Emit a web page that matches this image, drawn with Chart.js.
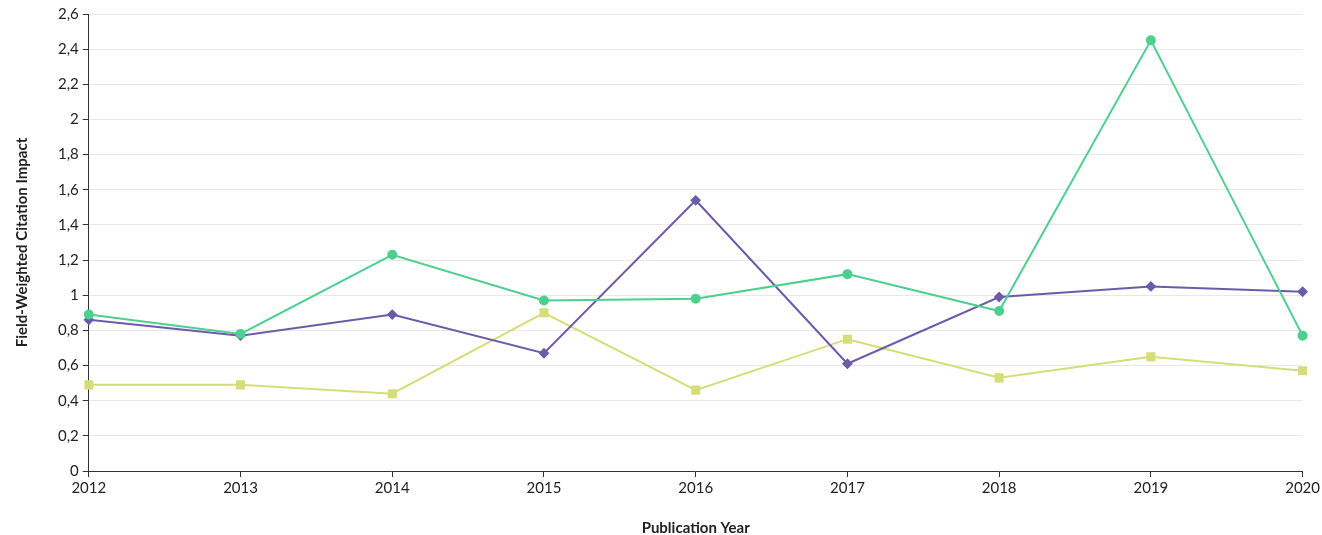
<!DOCTYPE html>
<html>
<head>
    <title>Field-Weighted Citation Impact</title>
    <meta charset="UTF-8">
    <script src="https://cdn.jsdelivr.net/npm/chart.js@4.4.0/dist/chart.umd.min.js"></script>
    <style>
        html, body { margin: 0; padding: 0; background: #fff; }
        #wrap { width: 1322px; height: 535px; }
    </style>
</head>
<body>
    <div id="wrap"><canvas id="fwciChart"></canvas></div>
    <script>
        const years = ['2012', '2013', '2014', '2015', '2016', '2017', '2018', '2019', '2020'];
        const greenValues = [0.89, 0.78, 1.23, 0.97, 0.98, 1.12, 0.91, 2.45, 0.77];
        const purpleValues = [0.86, 0.77, 0.89, 0.67, 1.54, 0.61, 0.99, 1.05, 1.02];
        const yellowValues = [0.49, 0.49, 0.44, 0.90, 0.46, 0.75, 0.53, 0.65, 0.57];
        const yTicks = [0, 0.2, 0.4, 0.6, 0.8, 1, 1.2, 1.4, 1.6, 1.8, 2, 2.2, 2.4, 2.6];

        const font = "Lato, 'Open Sans', sans-serif";
        const axisColor = '#333333';

        new Chart(document.getElementById('fwciChart'), {
            type: 'line',
            data: {
                labels: years,
                datasets: [
                    {
                        data: greenValues,
                        borderColor: '#4ecf8f',
                        backgroundColor: '#4ecf8f',
                        pointStyle: 'circle',
                        pointRadius: 4,
                        borderWidth: 2
                    },
                    {
                        data: purpleValues,
                        borderColor: '#6b5ba9',
                        backgroundColor: '#6b5ba9',
                        pointStyle: 'rectRot',
                        pointRadius: 4,
                        borderWidth: 2
                    },
                    {
                        data: yellowValues,
                        borderColor: '#d5dd78',
                        backgroundColor: '#d5dd78',
                        pointStyle: 'rect',
                        pointRadius: 5,
                        borderWidth: 2
                    }
                ]
            },
            options: {
                responsive: true,
                maintainAspectRatio: false,
                animation: false,
                layout: { padding: { top: 14, right: 5, left: 9, bottom: -6 } },
                plugins: {
                    legend: { display: false },
                    tooltip: { enabled: false }
                },
                elements: { line: { tension: 0 } },
                scales: {
                    x: {
                        offset: false,
                        border: { color: axisColor, width: 1 },
                        grid: {
                            drawOnChartArea: false,
                            drawTicks: true,
                            tickLength: 6,
                            tickColor: axisColor
                        },
                        ticks: { color: '#222', font: { family: font, size: 15 }, padding: 2, maxRotation: 0 },
                        title: {
                            display: true,
                            text: 'Publication Year',
                            color: '#222',
                            font: { family: font, size: 15, weight: 'bold' },
                            padding: { top: 20 }
                        }
                    },
                    y: {
                        min: 0,
                        max: 2.6,
                        afterBuildTicks: (axis) => { axis.ticks = yTicks.map((v) => ({ value: v })); },
                        border: { color: axisColor, width: 1 },
                        grid: {
                            color: '#e8e8e8',
                            drawTicks: true,
                            tickLength: 6,
                            tickColor: axisColor
                        },
                        ticks: {
                            color: '#222',
                            font: { family: font, size: 15 },
                            padding: 4,
                            callback: (value) => (Math.round(value * 10) / 10).toString().replace('.', ',')
                        },
                        title: {
                            display: true,
                            text: 'Field-Weighted Citation Impact',
                            color: '#222',
                            font: { family: font, size: 15, weight: 'bold' },
                            padding: { bottom: 23 }
                        }
                    }
                }
            }
        });
    </script>
</body>
</html>
